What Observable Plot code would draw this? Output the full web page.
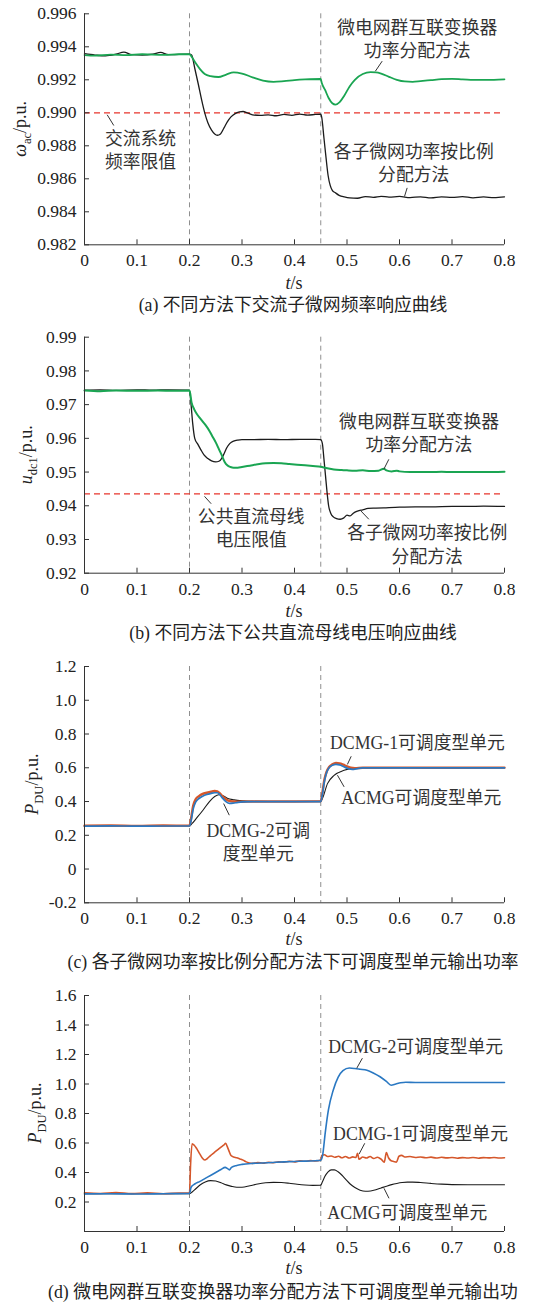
<!DOCTYPE html>
<html><head><meta charset="utf-8">
<script src="https://cdn.jsdelivr.net/npm/d3@7"></script>
<script src="https://cdn.jsdelivr.net/npm/@observablehq/plot@0.6"></script>
<style>
html,body{margin:0;padding:0;background:#fff;}
body{width:542px;height:1303px;overflow:hidden;position:relative;font-family:"Liberation Serif","DejaVu Serif","Noto Sans CJK SC",serif;}
.panel{position:absolute;left:0;}
.cap{position:absolute;white-space:nowrap;font-size:17.8px;line-height:20px;color:#222;z-index:5;}
</style></head><body>
<div id="root"></div>
<script>
// ---------- shared ----------
const xDomain = [0, 0.8];
const xTicks = [0, 0.1, 0.2, 0.3, 0.4, 0.5, 0.6, 0.7, 0.8];
const eventTimes = [0.2, 0.45];

// ---------- panel (a): AC sub-grid frequency ----------
const aYTicks = [0.982, 0.984, 0.986, 0.988, 0.990, 0.992, 0.994, 0.996];
const aLimit = [0.990];
const aIcT = [0,0.02,0.05,0.08,0.11,0.15,0.18,0.2,0.205,0.212,0.22,0.229,0.24,0.255,0.27,0.284,0.30,0.32,0.34,0.36,0.38,0.40,0.42,0.45,0.452,0.458,0.465,0.472,0.478,0.486,0.495,0.505,0.515,0.53,0.545,0.555,0.565,0.58,0.595,0.61,0.625,0.64,0.66,0.68,0.70,0.72,0.75,0.78,0.8];
const aIcV = [0.99350,0.99346,0.99352,0.99349,0.99355,0.99351,0.99355,0.99355,0.99335,0.99300,0.99265,0.99235,0.99222,0.99217,0.99232,0.99245,0.99238,0.99215,0.99195,0.99188,0.99192,0.99198,0.99202,0.99205,0.99180,0.99140,0.99090,0.99058,0.99050,0.99065,0.99105,0.99160,0.99200,0.99235,0.99246,0.99245,0.99238,0.99218,0.99200,0.99190,0.99188,0.99192,0.99198,0.99204,0.99206,0.99203,0.99199,0.99200,0.99203];
const aPrT = [0,0.02,0.04,0.06,0.075,0.09,0.11,0.13,0.145,0.16,0.18,0.2,0.204,0.21,0.217,0.223,0.229,0.235,0.242,0.248,0.253,0.259,0.266,0.272,0.279,0.287,0.295,0.302,0.31,0.32,0.335,0.35,0.365,0.38,0.395,0.41,0.425,0.44,0.45,0.452,0.456,0.46,0.464,0.468,0.472,0.478,0.485,0.495,0.505,0.52,0.535,0.55,0.565,0.58,0.6,0.62,0.64,0.66,0.68,0.7,0.72,0.74,0.76,0.78,0.8];
const aPrV = [0.99358,0.99350,0.99345,0.99355,0.99368,0.99352,0.99350,0.99355,0.99366,0.99352,0.99354,0.99355,0.99350,0.99270,0.99170,0.99080,0.99000,0.98940,0.98895,0.98872,0.98864,0.98872,0.98910,0.98945,0.98975,0.98995,0.99005,0.99008,0.99000,0.98988,0.98984,0.98988,0.98982,0.98990,0.98985,0.98992,0.98986,0.98990,0.98992,0.98970,0.98850,0.98730,0.98620,0.98560,0.98530,0.98515,0.98500,0.98490,0.98484,0.98482,0.98492,0.98488,0.98494,0.98489,0.98493,0.98486,0.98491,0.98484,0.98490,0.98487,0.98492,0.98485,0.98490,0.98486,0.98491];
const aNotes = [
  {t:0.6337, v:0.99452, text:"微电网群互联变换器\n功率分配方法"},
  {t:0.1067, v:0.98779, text:"交流系统\n频率限值"},
  {t:0.627, v:0.98703, text:"各子微网功率按比例\n分配方法"}
];
const aLeaders = [
  {t1:0.567, v1:0.99313, t2:0.554, v2:0.99252},
  {t1:0.0432, v1:0.98988, t2:0.0558, v2:0.98923},
  {t1:0.6146, v1:0.98545, t2:0.6095, v2:0.98493}
];

// ---------- panel (b): DC bus voltage ----------
const bYTicks = [0.92, 0.93, 0.94, 0.95, 0.96, 0.97, 0.98, 0.99];
const bLimit = [0.9435];
const bPrT = [0,0.03,0.06,0.1,0.13,0.16,0.2,0.203,0.206,0.21,0.216,0.222,0.228,0.235,0.242,0.25,0.256,0.261,0.266,0.271,0.277,0.284,0.292,0.30,0.32,0.35,0.38,0.41,0.44,0.45,0.453,0.456,0.459,0.462,0.465,0.469,0.474,0.48,0.487,0.494,0.50,0.506,0.512,0.52,0.53,0.54,0.555,0.57,0.6,0.63,0.66,0.7,0.73,0.76,0.8];
const bPrV = [0.9743,0.9744,0.9742,0.9744,0.9743,0.9744,0.9743,0.9700,0.9646,0.9600,0.9582,0.9565,0.9550,0.9540,0.9533,0.9530,0.9532,0.9540,0.9555,0.9572,0.9585,0.9592,0.9595,0.9596,0.9596,0.9597,0.9596,0.9597,0.9597,0.9596,0.9585,0.9540,0.9490,0.9440,0.9400,0.9378,0.9367,0.9362,0.9360,0.9364,0.9372,0.9370,0.9378,0.9384,0.9388,0.9392,0.9393,0.9394,0.9396,0.9397,0.9397,0.9398,0.9398,0.9399,0.9398];
const bIcT = [0,0.03,0.06,0.1,0.14,0.17,0.2,0.204,0.209,0.214,0.22,0.226,0.232,0.238,0.244,0.25,0.256,0.262,0.267,0.272,0.278,0.284,0.292,0.30,0.315,0.33,0.345,0.36,0.375,0.39,0.405,0.42,0.435,0.45,0.46,0.47,0.48,0.49,0.50,0.515,0.53,0.545,0.56,0.57,0.575,0.585,0.595,0.6,0.62,0.64,0.66,0.68,0.7,0.73,0.76,0.8];
const bIcV = [0.9742,0.9740,0.9742,0.9741,0.9742,0.9741,0.9742,0.9706,0.9686,0.9672,0.9660,0.9648,0.9636,0.9622,0.9605,0.9588,0.9568,0.9548,0.9530,0.9520,0.9515,0.9513,0.9513,0.9515,0.9519,0.9523,0.9526,0.9527,0.9526,0.9524,0.9522,0.9520,0.9518,0.9516,0.9512,0.9509,0.9507,0.9506,0.9505,0.9504,0.9505,0.9503,0.9504,0.9510,0.9505,0.9502,0.9504,0.9502,0.9500,0.9500,0.9500,0.9501,0.9500,0.9500,0.9500,0.9501];
const bNotes = [
  {t:0.637, v:0.96188, text:"微电网群互联变换器\n功率分配方法"},
  {t:0.3175, v:0.9337, text:"公共直流母线\n电压限值"},
  {t:0.6527, v:0.9288, text:"各子微网功率按比例\n分配方法"}
];
const bLeaders = [
  {t1:0.5797, v1:0.95378, t2:0.570, v2:0.9508},
  {t1:0.2286, v1:0.94279, t2:0.2413, v2:0.9406},
  {t1:0.5416, v1:0.9360, t2:0.5257, v2:0.9386}
];

// ---------- panel (c): dispatchable unit power, proportional method ----------
const cYTicks = [-0.2, 0, 0.2, 0.4, 0.6, 0.8, 1.0, 1.2];
const cAcT = [0,0.05,0.1,0.15,0.2,0.205,0.213,0.226,0.238,0.248,0.256,0.264,0.272,0.285,0.30,0.32,0.35,0.4,0.45,0.4532,0.4628,0.4754,0.4945,0.5135,0.53,0.6,0.7,0.8];
const cAcV = [0.255,0.256,0.255,0.256,0.256,0.27,0.30,0.35,0.40,0.43,0.44,0.434,0.42,0.41,0.404,0.401,0.400,0.400,0.401,0.418,0.506,0.555,0.585,0.598,0.600,0.600,0.600,0.600];
const cD1T = [0,0.05,0.1,0.15,0.2,0.203,0.207,0.212,0.218,0.225,0.233,0.241,0.248,0.253,0.258,0.263,0.27,0.278,0.288,0.3,0.32,0.35,0.4,0.45,0.453,0.457,0.461,0.466,0.472,0.479,0.486,0.493,0.5,0.507,0.515,0.53,0.6,0.7,0.8];
const cD1V = [0.257,0.258,0.256,0.258,0.257,0.30,0.375,0.415,0.432,0.445,0.452,0.458,0.462,0.460,0.448,0.430,0.412,0.402,0.399,0.399,0.400,0.400,0.400,0.401,0.45,0.53,0.575,0.605,0.620,0.628,0.626,0.618,0.608,0.601,0.598,0.600,0.601,0.600,0.601];
const cD2T = [0,0.05,0.1,0.15,0.2,0.203,0.207,0.212,0.218,0.225,0.233,0.241,0.248,0.253,0.258,0.263,0.27,0.276,0.283,0.292,0.30,0.32,0.35,0.4,0.45,0.453,0.457,0.461,0.466,0.472,0.479,0.486,0.493,0.5,0.507,0.513,0.52,0.53,0.6,0.7,0.8];
const cD2V = [0.254,0.256,0.254,0.255,0.255,0.285,0.355,0.398,0.418,0.432,0.442,0.448,0.452,0.452,0.440,0.420,0.398,0.389,0.390,0.395,0.398,0.400,0.400,0.400,0.400,0.44,0.52,0.570,0.600,0.615,0.620,0.617,0.608,0.598,0.592,0.591,0.595,0.599,0.599,0.599,0.599];
const cNotes = [
  {t:0.634, v:0.7526, text:"DCMG-1可调度型单元"},
  {t:0.6415, v:0.4276, text:"ACMG可调度型单元"},
  {t:0.331, v:0.166, text:"DCMG-2可调\n度型单元"}
];
const cLeaders = [
  {t1:0.508, v1:0.668, t2:0.5008, v2:0.620},
  {t1:0.4945, v1:0.487, t2:0.4818, v2:0.556},
  {t1:0.2758, v1:0.319, t2:0.265, v2:0.388}
];

// ---------- panel (d): dispatchable unit power, IC method ----------
const dYTicks = [0.2, 0.4, 0.6, 0.8, 1.0, 1.2, 1.4, 1.6];
const dAcT = [0,0.05,0.1,0.15,0.2,0.205,0.212,0.22,0.23,0.24,0.25,0.26,0.27,0.28,0.29,0.30,0.315,0.33,0.345,0.36,0.375,0.39,0.405,0.42,0.435,0.45,0.453,0.458,0.464,0.47,0.476,0.483,0.49,0.498,0.506,0.515,0.525,0.535,0.545,0.555,0.565,0.575,0.585,0.595,0.605,0.615,0.625,0.64,0.66,0.68,0.70,0.73,0.76,0.8];
const dAcV = [0.256,0.257,0.256,0.257,0.256,0.268,0.29,0.315,0.336,0.345,0.342,0.33,0.316,0.306,0.300,0.300,0.31,0.322,0.33,0.333,0.332,0.327,0.32,0.315,0.313,0.314,0.335,0.375,0.405,0.418,0.418,0.405,0.383,0.352,0.322,0.298,0.28,0.273,0.275,0.283,0.295,0.307,0.318,0.326,0.332,0.335,0.335,0.332,0.326,0.321,0.318,0.317,0.317,0.317];
const dD1T = [0,0.03,0.06,0.09,0.12,0.15,0.18,0.2,0.202,0.205,0.209,0.214,0.219,0.224,0.229,0.234,0.24,0.247,0.254,0.26,0.265,0.269,0.272,0.275,0.279,0.284,0.29,0.296,0.302,0.308,0.314,0.32,0.33,0.34,0.35,0.36,0.37,0.38,0.39,0.40,0.41,0.42,0.43,0.44,0.45,0.452,0.457,0.463,0.47,0.477,0.484,0.49,0.497,0.504,0.511,0.517,0.52,0.523,0.53,0.537,0.544,0.551,0.558,0.565,0.571,0.575,0.579,0.584,0.589,0.594,0.599,0.604,0.61,0.62,0.63,0.64,0.65,0.66,0.67,0.68,0.69,0.70,0.71,0.72,0.73,0.74,0.75,0.76,0.77,0.78,0.79,0.8];
const dD1V = [0.262,0.258,0.264,0.257,0.262,0.256,0.261,0.262,0.45,0.595,0.585,0.56,0.53,0.50,0.485,0.495,0.515,0.535,0.555,0.572,0.585,0.598,0.575,0.548,0.515,0.505,0.50,0.492,0.484,0.472,0.465,0.462,0.468,0.463,0.47,0.466,0.472,0.470,0.476,0.472,0.479,0.476,0.481,0.478,0.484,0.515,0.52,0.508,0.512,0.503,0.51,0.5,0.508,0.498,0.506,0.502,0.53,0.49,0.505,0.498,0.508,0.495,0.503,0.49,0.47,0.535,0.5,0.48,0.475,0.47,0.51,0.516,0.505,0.508,0.502,0.505,0.5,0.504,0.498,0.503,0.499,0.502,0.497,0.501,0.498,0.502,0.497,0.501,0.499,0.502,0.498,0.5];
const dD2T = [0,0.05,0.1,0.15,0.2,0.203,0.21,0.22,0.23,0.24,0.25,0.26,0.268,0.272,0.276,0.28,0.29,0.30,0.32,0.35,0.38,0.41,0.44,0.45,0.4537,0.4586,0.4647,0.4739,0.483,0.4923,0.5045,0.515,0.525,0.538,0.55,0.563,0.575,0.584,0.593,0.602,0.612,0.63,0.66,0.7,0.75,0.8];
const dD2V = [0.255,0.256,0.254,0.256,0.258,0.300,0.322,0.340,0.36,0.38,0.40,0.42,0.435,0.428,0.418,0.435,0.448,0.455,0.462,0.466,0.472,0.476,0.480,0.483,0.52,0.671,0.826,0.96,1.045,1.09,1.108,1.105,1.100,1.093,1.075,1.049,1.018,0.992,1.000,1.008,1.012,1.010,1.010,1.010,1.010,1.010];
const dNotes = [
  {t:0.6307, v:1.259, text:"DCMG-2可调度型单元"},
  {t:0.640, v:0.668, text:"DCMG-1可调度型单元"},
  {t:0.615, v:0.134, text:"ACMG可调度型单元"}
];
const dLeaders = [
  {t1:0.5293, v1:1.175, t2:0.5186, v2:1.107},
  {t1:0.5338, v1:0.598, t2:0.523, v2:0.525},
  {t1:0.58, v1:0.225, t2:0.5705, v2:0.293}
];

// ---------- drawing ----------
const FONT = '"Liberation Serif","DejaVu Serif","Noto Sans CJK SC",serif';
const zip = (t, v) => t.map((x, i) => ({t: x, v: v[i]}));
const root = document.getElementById("root");

function makePanel(cfg) {
  const frameH = cfg.frameBottom - cfg.frameTop;
  const frameW = 420;
  const marks = [
    Plot.ruleX(eventTimes, {stroke: "#8f8f8f", strokeWidth: 1, strokeDasharray: "5,4"}),
  ];
  if (cfg.limit) marks.push(Plot.ruleY(cfg.limit, {stroke: "#e8352c", strokeWidth: 1.2, strokeDasharray: "6,4"}));
  for (const s of cfg.series) {
    marks.push(Plot.line(zip(s.t, s.v), {x: "t", y: "v", stroke: s.color, strokeWidth: s.w, curve: "monotone-x"}));
  }
  marks.push(
    Plot.ruleX([xDomain[0]], {stroke: "#333", strokeWidth: 1}),
    Plot.ruleY([cfg.yDomain[0]], {stroke: "#333", strokeWidth: 1}),
    Plot.tickY(cfg.yTicks, {y: d => d, stroke: "#333", insetRight: frameW - 5}),
    Plot.tickX(xTicks, {x: d => d, stroke: "#333", insetTop: frameH - 5}),
    Plot.axisY({ticks: cfg.yTicks, tickSize: 0, tickPadding: 8, tickFormat: cfg.fmt, fontSize: 17.5, fill: "#222", label: null}),
    Plot.axisX({ticks: xTicks, tickSize: 0, tickPadding: 9, tickFormat: d => d === 0 ? "0" : d.toFixed(1), fontSize: 17.5, fill: "#222", label: null}),
    Plot.link(cfg.leaders, {x1: "t1", y1: "v1", x2: "t2", y2: "v2", stroke: "#333", strokeWidth: 1}),
    Plot.text(cfg.notes, {x: "t", y: "v", text: "text", fontSize: 17.8, fill: "#333", lineHeight: 1.3, fontFamily: FONT})
  );
  const svg = Plot.plot({
    width: 542,
    height: cfg.svgH,
    marginTop: cfg.frameTop - cfg.top,
    marginBottom: cfg.top + cfg.svgH - cfg.frameBottom,
    marginLeft: 84,
    marginRight: 38,
    x: {domain: xDomain, label: null},
    y: {domain: cfg.yDomain, label: null},
    style: {background: "transparent", fontFamily: FONT, fontSize: "17px", color: "#222", overflow: "visible"},
    marks
  });
  svg.classList.add("panel");
  svg.style.position = "absolute";
  svg.style.top = cfg.top + "px";
  svg.style.left = "0px";
  // rotated y-axis title with subscript
  const cy = (cfg.frameTop + cfg.frameBottom) / 2 - cfg.top;
  const t = d3.select(svg).append("text")
    .attr("transform", `translate(${cfg.ylabX},${cy}) rotate(-90)`)
    .attr("text-anchor", "middle").attr("dy", "0.35em")
    .attr("font-size", 18).attr("fill", "#222").attr("font-family", FONT);
  t.append("tspan").attr("font-style", "italic").text(cfg.ylab[0]);
  t.append("tspan").attr("font-size", 12.5).attr("dy", 5).text(cfg.ylab[1]);
  t.append("tspan").attr("dy", -5).text(cfg.ylab[2]);
  // x-axis title "t/s"
  const xl = d3.select(svg).append("text")
    .attr("x", 84 + frameW / 2).attr("y", cfg.frameBottom - cfg.top + cfg.tsDy)
    .attr("text-anchor", "middle").attr("dy", "0.35em")
    .attr("font-size", 18).attr("fill", "#222").attr("font-family", FONT);
  xl.append("tspan").attr("font-style", "italic").text("t");
  xl.append("tspan").text("/s");
  root.appendChild(svg);
  const cap = document.createElement("div");
  cap.className = "cap";
  cap.textContent = cfg.caption;
  cap.style.top = (cfg.capY - 10) + "px";
  if (cfg.capLeft != null) { cap.style.left = cfg.capLeft + "px"; }
  else { cap.style.left = "0px"; cap.style.width = "586px"; cap.style.textAlign = "center"; }
  root.appendChild(cap);
}

const f3 = d => d.toFixed(3), f2 = d => d.toFixed(2), f1 = d => d === 0 ? "0" : d.toFixed(1);

makePanel({top: 0, svgH: 292, frameTop: 13.3, frameBottom: 244.3, yDomain: [0.982, 0.996], yTicks: aYTicks, fmt: f3,
  limit: aLimit, series: [{t: aPrT, v: aPrV, color: "#1b1b1b", w: 1.3}, {t: aIcT, v: aIcV, color: "#1aa552", w: 1.8}],
  notes: aNotes, leaders: aLeaders, tsDy: 38.7, ylabX: 20, ylab: ["ω", "ac", "/p.u."],
  caption: "(a) 不同方法下交流子微网频率响应曲线", capY: 305});

makePanel({top: 320, svgH: 300, frameTop: 336.7, frameBottom: 572.7, yDomain: [0.92, 0.99], yTicks: bYTicks, fmt: f2,
  limit: bLimit, series: [{t: bPrT, v: bPrV, color: "#1b1b1b", w: 1.3}, {t: bIcT, v: bIcV, color: "#1aa552", w: 2}],
  notes: bNotes, leaders: bLeaders, tsDy: 38.3, ylabX: 26, ylab: ["u", "dc1", "/p.u."],
  caption: "(b) 不同方法下公共直流母线电压响应曲线", capY: 633});

makePanel({top: 640, svgH: 310, frameTop: 666, frameBottom: 902.3, yDomain: [-0.2, 1.2], yTicks: cYTicks, fmt: f1,
  limit: null, series: [{t: cAcT, v: cAcV, color: "#1b1b1b", w: 1.1}, {t: cD1T, v: cD1V, color: "#d5572b", w: 2.4}, {t: cD2T, v: cD2V, color: "#2a78c2", w: 1.7}],
  notes: cNotes, leaders: cLeaders, tsDy: 36.7, ylabX: 32, ylab: ["P", "DU", "/p.u."],
  caption: "(c) 各子微网功率按比例分配方法下可调度型单元输出功率", capY: 961.7});

makePanel({top: 975, svgH: 310, frameTop: 995, frameBottom: 1231, yDomain: [0, 1.6], yTicks: dYTicks, fmt: f1,
  limit: null, series: [{t: dAcT, v: dAcV, color: "#1b1b1b", w: 1.1}, {t: dD1T, v: dD1V, color: "#d5572b", w: 1.6}, {t: dD2T, v: dD2V, color: "#2a78c2", w: 1.6}],
  notes: dNotes, leaders: dLeaders, tsDy: 37, ylabX: 35, ylab: ["P", "DU", "/p.u."],
  caption: "(d) 微电网群互联变换器功率分配方法下可调度型单元输出功", capY: 1292, capLeft: 48});
</script>
</body></html>
